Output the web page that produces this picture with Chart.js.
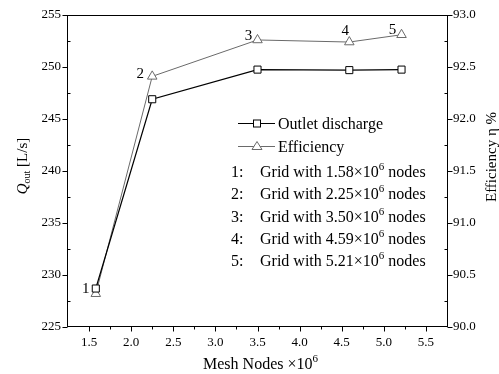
<!DOCTYPE html>
<html><head><meta charset="utf-8">
<script src="https://cdn.jsdelivr.net/npm/chart.js@4/dist/chart.umd.min.js"></script>
<style>html,body{margin:0;padding:0;background:#fff;} #wrap{width:499px;height:374px;}</style>
</head><body><div id="wrap"><canvas id="c" width="499" height="374"></canvas></div>
<script>
// ---- data ----
const meshNodes = [1.58, 2.25, 3.50, 4.59, 5.21];
const outletDischarge = [228.7, 246.9, 249.75, 249.7, 249.75];
const efficiency = [90.32, 92.41, 92.76, 92.74, 92.81];
const pointNumbers = ['1', '2', '3', '4', '5'];
const xTicks = [1.5, 2.0, 2.5, 3.0, 3.5, 4.0, 4.5, 5.0, 5.5];
const yLeftTicks = [225, 230, 235, 240, 245, 250, 255];
const yRightTicks = [90.0, 90.5, 91.0, 91.5, 92.0, 92.5, 93.0];
const seriesNames = ['Outlet discharge', 'Efficiency'];

const SERIF = '"Liberation Serif", "Times New Roman", serif';
const EFF_GREY = '#6a6a6a';

function minorOf(arr) {
  const out = [];
  for (let i = 0; i < arr.length - 1; i++) out.push((arr[i] + arr[i + 1]) / 2);
  return out;
}

function richWidth(ctx, segs) {
  let w = 0;
  for (const s of segs) { ctx.font = s.font; w += ctx.measureText(s.t).width; }
  return w;
}
function drawRich(ctx, segs, x, y, align) {
  let w = richWidth(ctx, segs);
  let cx = align === 'center' ? x - w / 2 : x;
  ctx.textBaseline = 'alphabetic';
  ctx.textAlign = 'left';
  for (const s of segs) {
    ctx.font = s.font;
    ctx.fillText(s.t, cx, y + (s.dy || 0));
    cx += ctx.measureText(s.t).width;
  }
}

const overlay = {
  id: 'overlay',
  afterDraw(chart) {
    const ctx = chart.ctx;
    const a = chart.chartArea;
    const sx = chart.scales.x, sy = chart.scales.y, sy2 = chart.scales.y2;
    ctx.save();
    ctx.strokeStyle = '#000';
    ctx.fillStyle = '#000';
    ctx.lineWidth = 1;
    // frame
    ctx.strokeRect(Math.round(a.left) - 0.5, Math.round(a.top) + 0.5, Math.round(a.right - a.left) + 1, Math.round(a.bottom - a.top) - 1);
    // ticks
    ctx.beginPath();
    const L = Math.round(a.left) - 0.5, R = Math.round(a.right) + 0.5, B = Math.round(a.bottom) - 0.5;
    xTicks.forEach(v => { const px = Math.round(sx.getPixelForValue(v)) + 0.5; ctx.moveTo(px, B); ctx.lineTo(px, B + 5); });
    minorOf(xTicks).forEach(v => { const px = Math.round(sx.getPixelForValue(v)) + 0.5; ctx.moveTo(px, B); ctx.lineTo(px, B + 3); });
    yLeftTicks.forEach(v => { const py = Math.round(sy.getPixelForValue(v)) + 0.5; ctx.moveTo(L, py); ctx.lineTo(L - 5, py); });
    minorOf(yLeftTicks).forEach(v => { const py = Math.round(sy.getPixelForValue(v)) + 0.5; ctx.moveTo(L, py); ctx.lineTo(L + 3, py); });
    yRightTicks.forEach(v => { const py = Math.round(sy2.getPixelForValue(v)) + 0.5; ctx.moveTo(R, py); ctx.lineTo(R + 5, py); });
    minorOf(yRightTicks).forEach(v => { const py = Math.round(sy2.getPixelForValue(v)) + 0.5; ctx.moveTo(R, py); ctx.lineTo(R - 3, py); });
    ctx.stroke();

    // axis titles
    const f16 = '16px ' + SERIF, f15 = '15px ' + SERIF, f15i = 'italic 15px ' + SERIF, f11 = '11px ' + SERIF, f10 = '10px ' + SERIF;
    drawRich(ctx, [{t: 'Mesh Nodes \u00d710', font: f16}, {t: '6', font: f11, dy: -7}], (a.left + a.right) / 2 + 3, 369, 'center');
    ctx.save();
    ctx.translate(27, 166);
    ctx.rotate(-Math.PI / 2);
    drawRich(ctx, [{t: 'Q', font: f15i}, {t: 'out', font: f10, dy: 3}, {t: ' [L/s]', font: f15}], 0, 0, 'center');
    ctx.restore();
    ctx.save();
    ctx.translate(496, 157);
    ctx.rotate(-Math.PI / 2);
    drawRich(ctx, [{t: 'Efficiency \u03b7 %', font: f15}], 0, 0, 'center');
    ctx.restore();

    // point number labels
    const metaE = chart.getDatasetMeta(1);
    const offs = [[-10, -5], [-12, -2], [-9, -4], [-4, -11], [-9, -5]];
    ctx.font = f15;
    ctx.textAlign = 'center';
    ctx.textBaseline = 'middle';
    pointNumbers.forEach((n, i) => {
      const p = metaE.data[i];
      ctx.fillText(n, p.x + offs[i][0], p.y + offs[i][1]);
    });

    // legend
    const lx0 = 238, lx1 = 275, mx = 257;
    const rows = [123, 146];
    ctx.strokeStyle = '#000'; ctx.lineWidth = 1.2;
    ctx.beginPath(); ctx.moveTo(lx0, rows[0] + 0.5); ctx.lineTo(lx1, rows[0] + 0.5); ctx.stroke();
    ctx.fillStyle = '#fff'; ctx.lineWidth = 1;
    ctx.fillRect(mx - 3.5, rows[0] - 3, 7, 7); ctx.strokeRect(mx - 3.5, rows[0] - 3, 7, 7);
    ctx.strokeStyle = EFF_GREY; ctx.lineWidth = 1;
    ctx.beginPath(); ctx.moveTo(lx0, rows[1] + 0.5); ctx.lineTo(lx1, rows[1] + 0.5); ctx.stroke();
    ctx.beginPath(); ctx.moveTo(mx, rows[1] - 4.5); ctx.lineTo(mx + 5, rows[1] + 3.5); ctx.lineTo(mx - 5, rows[1] + 3.5); ctx.closePath();
    ctx.fillStyle = '#fff'; ctx.fill(); ctx.stroke();
    ctx.fillStyle = '#000';
    drawRich(ctx, [{t: seriesNames[0], font: f16}], 278, rows[0] + 6, 'left');
    drawRich(ctx, [{t: seriesNames[1], font: f16}], 278, rows[1] + 6, 'left');
    const gridRows = [171, 193, 216, 238, 260];
    meshNodes.forEach((v, i) => {
      const y = gridRows[i] + 6;
      drawRich(ctx, [{t: pointNumbers[i] + ':', font: f16}], 231, y, 'left');
      drawRich(ctx, [{t: 'Grid with ' + v.toFixed(2) + '\u00d710', font: f16}, {t: '6', font: f11, dy: -7}, {t: ' nodes', font: f16}], 260, y, 'left');
    });
    ctx.restore();
  }
};

const tickFont = {family: SERIF, size: 13};
new Chart(document.getElementById('c'), {
  type: 'line',
  data: {
    datasets: [
      {
        label: seriesNames[0],
        data: meshNodes.map((x, i) => ({x, y: outletDischarge[i]})),
        yAxisID: 'y',
        borderColor: '#000', borderWidth: 1.2,
        pointStyle: 'rect', pointRadius: 5, pointBorderWidth: 1,
        pointBackgroundColor: '#fff', pointBorderColor: '#000',
        tension: 0, fill: false
      },
      {
        label: seriesNames[1],
        data: meshNodes.map((x, i) => ({x, y: efficiency[i]})),
        yAxisID: 'y2',
        borderColor: EFF_GREY, borderWidth: 1,
        pointStyle: 'triangle', pointRadius: 5.5, pointBorderWidth: 1,
        pointBackgroundColor: '#fff', pointBorderColor: EFF_GREY,
        tension: 0, fill: false
      }
    ]
  },
  options: {
    responsive: false,
    animation: false,
    layout: {padding: {top: 15, left: 0, right: 0, bottom: 0}},
    plugins: {legend: {display: false}, tooltip: {enabled: false}},
    scales: {
      x: {
        type: 'linear', min: 1.25, max: 5.75,
        afterBuildTicks: s => { s.ticks = xTicks.map(v => ({value: v})); },
        afterFit: s => { s.height = 47; },
        grid: {display: false, drawTicks: false, tickLength: 0}, border: {display: false},
        ticks: {padding: 8, color: '#000', font: tickFont, callback: v => Number(v).toFixed(1), maxRotation: 0}
      },
      y: {
        type: 'linear', position: 'left', min: 225, max: 255,
        afterBuildTicks: s => { s.ticks = yLeftTicks.map(v => ({value: v})); },
        afterFit: s => { s.width = 68; },
        grid: {display: false, drawTicks: false, tickLength: 0}, border: {display: false},
        ticks: {padding: 7, color: '#000', font: tickFont, callback: v => String(v)}
      },
      y2: {
        type: 'linear', position: 'right', min: 90, max: 93,
        afterBuildTicks: s => { s.ticks = yRightTicks.map(v => ({value: v})); },
        afterFit: s => { s.width = 52; },
        grid: {display: false, drawTicks: false, tickLength: 0}, border: {display: false},
        ticks: {padding: 6, color: '#000', font: tickFont, callback: v => Number(v).toFixed(1)}
      }
    }
  },
  plugins: [overlay]
});
</script>
</body></html>
